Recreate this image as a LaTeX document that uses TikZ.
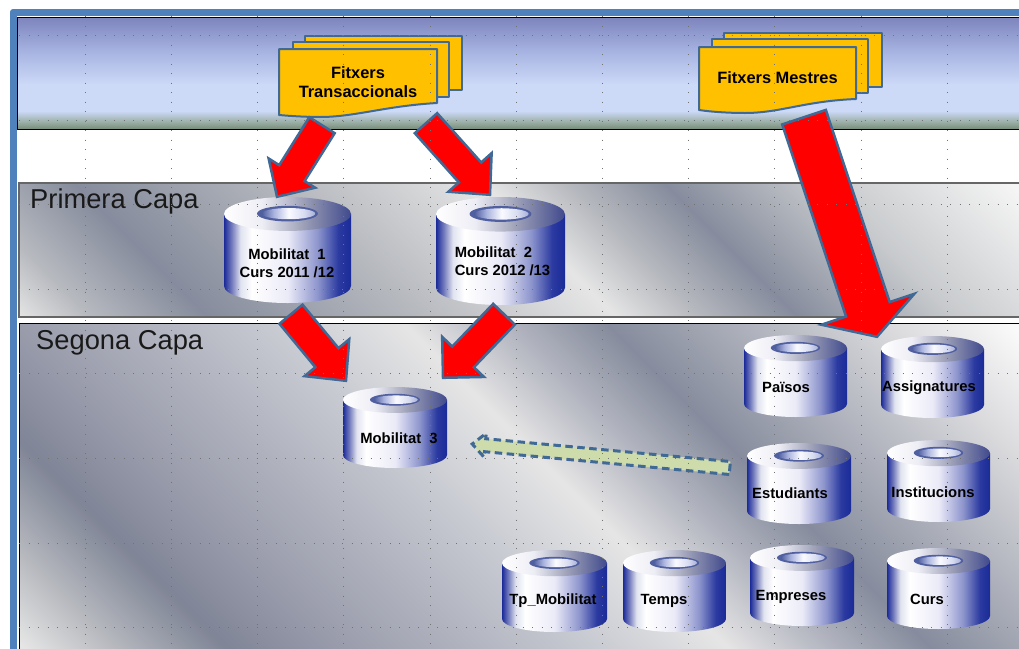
\documentclass[tikz,border=0pt]{standalone}
\usepackage{fontspec}
\setmainfont{Liberation Sans}
\usetikzlibrary{calc}
\definecolor{framecolor}{RGB}{79, 129, 189}
\definecolor{edgecolor}{RGB}{65, 105, 150}
\definecolor{filecolor}{RGB}{255, 192, 0}
\definecolor{arrowcolor}{RGB}{255, 0, 0}
\definecolor{linkcolor}{RGB}{205, 220, 170}
\definecolor{banddark}{RGB}{134, 140, 157}
\definecolor{dbblue}{RGB}{26, 42, 152}
\definecolor{holecolor}{RGB}{80, 95, 160}
% Header band, 25bp is the bottom and 75bp the top
\pgfdeclareverticalshading{headband}{100bp}{
    rgb(0bp)=(0.47,0.55,0.48); rgb(25bp)=(0.47,0.55,0.48); rgb(28bp)=(0.60,0.68,0.64);
    rgb(33bp)=(0.80,0.85,0.97); rgb(45bp)=(0.80,0.85,0.97); rgb(60bp)=(0.65,0.70,0.88);
    rgb(75bp)=(0.49,0.52,0.74); rgb(100bp)=(0.49,0.52,0.74)}
% Panels: position along the diagonal is 50bp + 0.02357 (x - y)
\pgfdeclarehorizontalshading{capaone}{100bp}{
    rgb(0bp)=(0.89,0.89,0.89); rgb(43bp)=(0.89,0.89,0.89); rgb(44.6bp)=(0.72,0.73,0.75);
    color(47.4bp)=(banddark); rgb(52.6bp)=(0.72,0.73,0.75); rgb(57.1bp)=(0.90,0.90,0.90);
    rgb(59bp)=(0.72,0.73,0.75); color(61.4bp)=(banddark); rgb(65.1bp)=(0.78,0.79,0.80);
    rgb(69.6bp)=(0.96,0.96,0.96); rgb(100bp)=(0.96,0.96,0.96)}
\pgfdeclarehorizontalshading{capatwo}{100bp}{
    rgb(0bp)=(0.90,0.90,0.90); rgb(35.2bp)=(0.90,0.90,0.90); rgb(37.3bp)=(0.72,0.73,0.75);
    rgb(40bp)=(0.50,0.52,0.59); rgb(42.7bp)=(0.60,0.61,0.67); rgb(48.6bp)=(0.78,0.79,0.82);
    rgb(51.9bp)=(0.90,0.90,0.90); rgb(54.2bp)=(0.71,0.72,0.76); color(56.7bp)=(banddark);
    rgb(63.4bp)=(0.86,0.86,0.87); rgb(66.3bp)=(0.98,0.98,0.98); rgb(100bp)=(0.98,0.98,0.98)}
% Cylinders, 25bp is the left side and 75bp the right side
\pgfdeclarehorizontalshading{dbbody}{100bp}{
    color(0bp)=(dbblue); color(25bp)=(dbblue); rgb(28bp)=(0.45,0.48,0.74); rgb(31.5bp)=(0.88,0.89,0.94);
    rgb(36bp)=(1,1,1); rgb(50bp)=(0.92,0.92,0.97); rgb(62bp)=(0.55,0.58,0.80);
    rgb(70bp)=(0.17,0.23,0.63); color(75bp)=(dbblue); color(100bp)=(dbblue)}
\pgfdeclarehorizontalshading{dbtop}{100bp}{
    rgb(0bp)=(1,1,1); rgb(25bp)=(1,1,1); rgb(40bp)=(0.93,0.93,0.96); rgb(56bp)=(0.62,0.63,0.72);
    rgb(75bp)=(0.25,0.29,0.55); rgb(100bp)=(0.25,0.29,0.55)}
\pgfdeclarehorizontalshading{dbhole}{100bp}{
    color(0bp)=(holecolor); color(25bp)=(holecolor); rgb(36bp)=(0.66,0.70,0.87);
    rgb(50bp)=(0.98,0.98,1); rgb(65bp)=(0.84,0.86,0.94); rgb(75bp)=(0.66,0.69,0.85); rgb(100bp)=(0.66,0.69,0.85)}
% Block arrow: tail, tip, half shaft, half head, head length
\newcommand{\blockarrow}[6][]{
    \coordinate (hb) at ($(#3)!#6!(#2)$);
    \draw[bigarrow, #1] ($(#2)!#4!90:(#3)$) -- ($(hb)!#4!-90:(#2)$) -- ($(hb)!#5!-90:(#2)$) -- (#3)
        -- ($(hb)!#5!90:(#2)$) -- ($(hb)!#4!90:(#2)$) -- ($(#2)!#4!-90:(#3)$) -- cycle;
}
\begin{document}
\begin{tikzpicture}[
    x=1pt, y=-1pt,
    panel/.style={draw=black!60, line width=1.3pt},
    sheet/.style={draw=edgecolor, fill=filecolor, line width=2pt, line join=round},
    filebox/.style={inner sep=0pt, align=center, font=\fontsize{16.4}{19}\selectfont\bfseries},
    dbbox/.style={inner sep=0pt},
    dblabel/.style={inner sep=0pt, font=\fontsize{14.8}{18}\selectfont\bfseries},
    capalabel/.style={inner sep=0pt, anchor=base west, font=\fontsize{27.3}{30}\selectfont, text=black!90},
    bigarrow/.style={draw=edgecolor, fill=arrowcolor, line width=2.5pt, line join=miter},
    griddot/.style={black!55, line width=0.9pt, dash pattern=on 1pt off 8.5pt},
]
    \useasboundingbox (0,0) rectangle (1019,648);
    \clip (0,0) rectangle (1019,648);

    % Frame
    \fill[framecolor, rounded corners=3pt] (10,9) rectangle (1040,670);
    \fill[white] (17,16) rectangle (1040,670);

    % Layers
    \shade[shading=headband] (17,17) rectangle (1040,129);
    \draw[black, line width=1pt] (17,129) -| (17,17) -- (1040,17) (17,129) -- (1040,129);

    \begin{scope}
        \clip (19,183) rectangle (1040,317);
        \shade[shading=capaone, shading angle=45] (-250,-250) rectangle (1250,1250);
    \end{scope}
    \draw[panel] (1040,183) -- (19,183) -- (19,317) -- (1040,317);
    \node[capalabel] (capa1) at (30,208) {Primera Capa};

    \begin{scope}
        \clip (19,323) rectangle (1040,670);
        \shade[shading=capatwo, shading angle=45] (-250,-250) rectangle (1250,1250);
    \end{scope}
    \draw[panel, black, line width=1pt] (1040,323) -- (19,323) -- (19,670);
    \node[capalabel] (capa2) at (36,349) {Segona Capa};

    % Files
    \draw[sheet] (305,36) rectangle (462,90);
    \draw[sheet] (293,42) rectangle (449,97);
    \draw[sheet] (279,49) -- (437,49) -- (437,103) .. controls (385,106) and (355,117) .. (320,117)
        .. controls (305,117) and (290,116) .. (279,115) -- cycle;
    \node[filebox, minimum width=158pt, minimum height=68pt] (trans) at (358,82) {Fitxers\\Transaccionals};

    \draw[sheet] (724,33) rectangle (882,87);
    \draw[sheet] (712,39) rectangle (868,93);
    \draw[sheet] (699,47) -- (856,47) -- (856,99) .. controls (805,101) and (780,113) .. (745,113)
        .. controls (730,113) and (712,112) .. (699,110) -- cycle;
    \node[filebox, minimum width=157pt, minimum height=64pt] (mestres) at (777.5,78) {Fitxers Mestres};

    % Cylinders
    \foreach \dbname/\xa/\xb/\ya/\yb/\lx/\ly/\dbalign/\dbtext in {
        mob1/224/351/197/303/287/263/center/{Mobilitat~~1\\Curs 2011 /12},
        mob2/436/565/197/305/502.5/261/left/{Mobilitat~~2\\Curs 2012 /13},
        mob3/343/447/387/468/399/438/center/{Mobilitat~~3},
        tpmob/502/607/550/632/553/601/center/{Tp\_Mobilitat},
        temps/623/726/550/632/664/601/center/{Temps},
        paisos/744/847/335/417/786/387/center/{Països},
        assig/881/984/336/418/929/388/center/{Assignatures},
        estud/747/851/443/524/790/493/center/{Estudiants},
        instit/887/990/440/522/933/492/center/{Institucions},
        empre/750/854/545/626/791/597/center/{Empreses},
        curs/887/990/548/629/927/599/center/{Curs}} {
        \pgfmathsetmacro{\cx}{(\xa+\xb)/2}
        \pgfmathsetmacro{\cy}{(\ya+\yb)/2}
        \pgfmathsetmacro{\rx}{(\xb-\xa)/2}
        \pgfmathsetmacro{\ry}{(\yb-\ya)*0.16}
        \pgfmathsetmacro{\dw}{\xb-\xa}
        \pgfmathsetmacro{\dh}{\yb-\ya}
        \shade[shading=dbbody] (\xa,\ya+\ry) rectangle (\xb,\yb-\ry) (\cx,\yb-\ry) ellipse (\rx pt and \ry pt);
        \shade[shading=dbtop] (\cx,\ya+\ry) ellipse (\rx pt and \ry pt);
        \fill[holecolor] (\cx,\ya+\ry*0.98) ellipse (\rx*0.48 pt and \ry*0.46 pt);
        \shade[shading=dbhole] (\cx+1,\ya+\ry*0.98) ellipse (\rx*0.42 pt and \ry*0.33 pt);
        \node[dbbox, minimum width=\dw pt, minimum height=\dh pt] (\dbname) at (\cx,\cy) {};
        \node[dblabel, align=\dbalign] (\dbname lab) at (\lx,\ly) {\dbtext};
    }

    % Arrows
    \coordinate (tail1) at ($(trans.south)+(-36,9)$);
    \coordinate (tip1) at ($(mob1.north)+(-10.5,0)$);
    \blockarrow{tail1}{tip1}{15pt}{27.5pt}{28pt}

    \coordinate (tail2) at ($(trans.south)+(68,7)$);
    \coordinate (tip2) at ($(mob2.north)+(-10.5,-2)$);
    \blockarrow{tail2}{tip2}{15pt}{29pt}{30pt}

    \coordinate (tail3) at ($(mestres.south)+(26.5,7)$);
    \coordinate (tip3) at ($(assig.north)+(-55.5,1)$);
    \blockarrow{tail3}{tip3}{23pt}{49pt}{29pt}

    \coordinate (tail4) at ($(mob1.south)+(3.5,11)$);
    \coordinate (tip4) at ($(mob3.north)+(-49,-6)$);
    \blockarrow{tail4}{tip4}{15pt}{29pt}{30pt}

    \coordinate (tail5) at ($(mob2.south)+(3.5,9)$);
    \coordinate (tip5) at ($(mob3.north)+(48,-9)$);
    \blockarrow{tail5}{tip5}{15pt}{29pt}{29pt}

    \coordinate (tail6) at ($(estud.west)+(-17,-15.5)$);
    \coordinate (tip6) at ($(mob3.east)+(25,16.5)$);
    \blockarrow[fill=linkcolor, line width=3pt, dash pattern=on 7.5pt off 4.5pt]{tail6}{tip6}{6.5pt}{12pt}{13pt}

    % Grid
    \foreach \gx in {85,171.5,257,343,430,516,602,688,774,861,947} {
        \draw[griddot] (\gx,16) -- (\gx,648);
    }
    \foreach \gy in {35,120.5,204,289,373,458,543,627} {
        \draw[griddot] (19,\gy) -- (1019,\gy);
    }
\end{tikzpicture}
\end{document}
